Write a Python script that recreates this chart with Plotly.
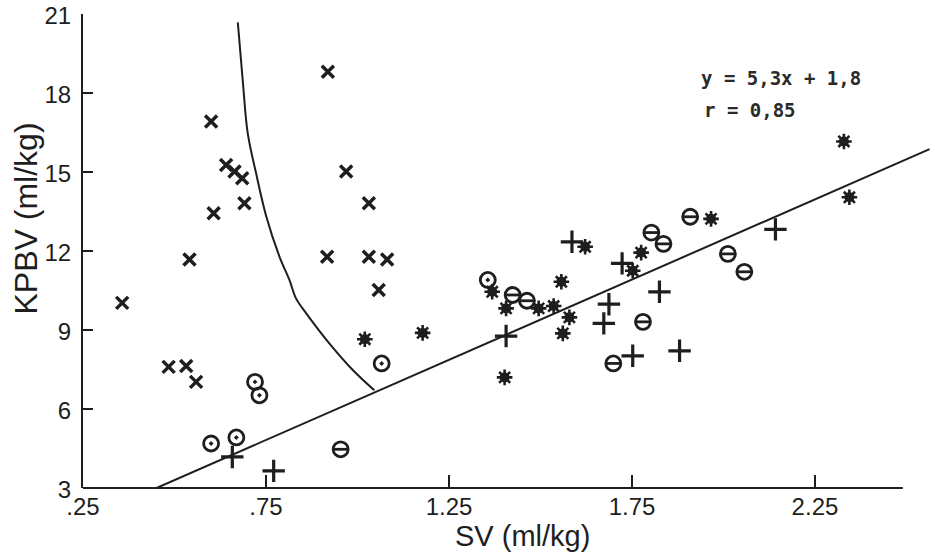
import plotly.graph_objects as go

# ---------------- data ----------------
x_cross_x = [0.919, 0.600, 0.641, 0.664, 0.685, 0.969, 1.031, 0.691, 0.607, 0.917, 1.031, 1.081,
             0.541, 1.058, 0.357, 0.484, 0.532, 0.559]
y_cross_x = [18.81, 16.92, 15.27, 15.02, 14.76, 15.02, 13.81, 13.81, 13.43, 11.78, 11.78, 11.68,
             11.68, 10.52, 10.03, 7.60, 7.63, 7.03]

x_dot = [0.720, 0.732, 0.600, 0.669, 1.066, 1.356]
y_dot = [7.03, 6.52, 4.69, 4.92, 7.73, 10.90]

x_theta = [0.954, 1.424, 1.463, 1.780, 1.699, 1.803, 1.836, 1.909, 2.012, 2.057]
y_theta = [4.47, 10.33, 10.11, 9.31, 7.73, 12.70, 12.27, 13.30, 11.89, 11.21]

x_plus = [0.658, 0.771, 1.406, 1.586, 1.687, 1.673, 1.752, 1.825, 1.880, 1.723, 2.142]
y_plus = [4.18, 3.65, 8.77, 12.35, 9.98, 9.25, 8.02, 10.45, 8.21, 11.53, 12.82]

x_star = [1.020, 1.178, 1.368, 1.406, 1.495, 1.536, 1.402, 1.557, 1.579, 1.561, 1.622,
          1.752, 1.775, 1.966, 2.329, 2.344]
y_star = [8.65, 8.89, 10.45, 9.82, 9.82, 9.91, 7.20, 10.83, 9.48, 8.87, 12.16,
          11.25, 11.94, 13.22, 16.16, 14.04]

curve_x = [0.673, 0.687, 0.700, 0.723, 0.751, 0.787, 0.814, 0.832, 0.860, 0.923, 0.987, 1.046]
curve_y = [20.68, 18.38, 16.48, 14.95, 13.30, 11.78, 10.90, 10.20, 9.63, 8.49, 7.48, 6.71]

fit_x = [0.451, 2.563]
fit_y = [3.0, 15.87]

x_tickvals = [0.25, 0.75, 1.25, 1.75, 2.25]
x_ticktext = [".25", ".75", "1.25", "1.75", "2.25"]
y_tickvals = [3, 6, 9, 12, 15, 18, 21]
x_range = [0.25, 2.567]
y_range = [3, 21]
x_axis_end = 2.49

eq_text = "y = 5,3x + 1,8"
r_text = "r = 0,85"

INK = "#1e1e1e"

fig = go.Figure()

fig.add_trace(go.Scatter(x=fit_x, y=fit_y, mode="lines",
                         line=dict(color=INK, width=2), showlegend=False, hoverinfo="skip"))
fig.add_trace(go.Scatter(x=curve_x, y=curve_y, mode="lines",
                         line=dict(color=INK, width=2, shape="spline"), showlegend=False, hoverinfo="skip"))

fig.add_trace(go.Scatter(x=x_cross_x, y=y_cross_x, mode="markers", showlegend=False,
                         marker=dict(symbol="x-thin", size=12, line=dict(width=3.5, color=INK), color=INK)))
fig.add_trace(go.Scatter(x=x_dot, y=y_dot, mode="markers", showlegend=False,
                         marker=dict(symbol="circle-open-dot", size=15, line=dict(width=2.8, color=INK), color=INK)))
fig.add_trace(go.Scatter(x=x_theta, y=y_theta, mode="markers", showlegend=False,
                         marker=dict(symbol="circle-open", size=15, line=dict(width=2.8, color=INK), color=INK)))
fig.add_trace(go.Scatter(x=x_theta, y=y_theta, mode="markers", showlegend=False,
                         marker=dict(symbol="line-ew", size=10, line=dict(width=2.8, color=INK), color=INK)))
fig.add_trace(go.Scatter(x=x_plus, y=y_plus, mode="markers", showlegend=False,
                         marker=dict(symbol="cross-thin", size=16, line=dict(width=3.2, color=INK), color=INK)))
fig.add_trace(go.Scatter(x=x_star, y=y_star, mode="markers", showlegend=False,
                         marker=dict(symbol="circle", size=10, color=INK, line=dict(width=0))))
fig.add_trace(go.Scatter(x=x_star, y=y_star, mode="markers", showlegend=False,
                         marker=dict(symbol="asterisk", size=13, line=dict(width=2.6, color=INK), color=INK)))

fig.add_shape(type="line", xref="x", yref="paper", x0=x_range[0], x1=x_axis_end, y0=0, y1=0,
              line=dict(color=INK, width=2), layer="above")

fig.add_annotation(x=1.932, y=18.58, xref="x", yref="y", text=eq_text, showarrow=False,
                   xanchor="left", yanchor="middle",
                   font=dict(family="DejaVu Sans Mono", size=19, color="#2a2a2a", weight="bold"))
fig.add_annotation(x=1.940, y=17.36, xref="x", yref="y", text=r_text, showarrow=False,
                   xanchor="left", yanchor="middle",
                   font=dict(family="DejaVu Sans Mono", size=19, color="#2a2a2a", weight="bold"))

fig.add_annotation(x=0.5177, y=-0.101, xref="paper", yref="paper", text="SV (ml/kg)", showarrow=False,
                   xanchor="center", yanchor="middle",
                   font=dict(family="Liberation Sans", size=29, color=INK))
fig.add_annotation(x=-0.067, y=0.569, xref="paper", yref="paper", text="KPBV (ml/kg)", showarrow=False,
                   xanchor="center", yanchor="middle", textangle=-90,
                   font=dict(family="Liberation Sans", size=32, color=INK))

fig.update_layout(
    width=935, height=554,
    margin=dict(l=83, r=4, t=14, b=66, autoexpand=False),
    paper_bgcolor="white", plot_bgcolor="white",
    showlegend=False,
    font=dict(family="Liberation Sans", color=INK),
    xaxis=dict(range=x_range, showline=False, showgrid=False, zeroline=False, automargin=False,
               ticks="inside", ticklen=13, tickwidth=2, tickcolor=INK,
               tickvals=x_tickvals, ticktext=x_ticktext,
               tickfont=dict(size=24, color=INK), ticklabelstandoff=2),
    yaxis=dict(range=y_range, showline=True, linewidth=2, linecolor=INK,
               showgrid=False, zeroline=False, automargin=False,
               ticks="inside", ticklen=10, tickwidth=2, tickcolor=INK,
               tickvals=y_tickvals, tickfont=dict(size=24, color=INK), ticklabelstandoff=5,
               ticklabeloverflow="allow", ticklabelshift=2),
)

# remove the page's default body margin so the figure fills the window exactly
fig.write_html("out.html", config={"displayModeBar": False},
               post_script="document.body.style.margin='0';")
